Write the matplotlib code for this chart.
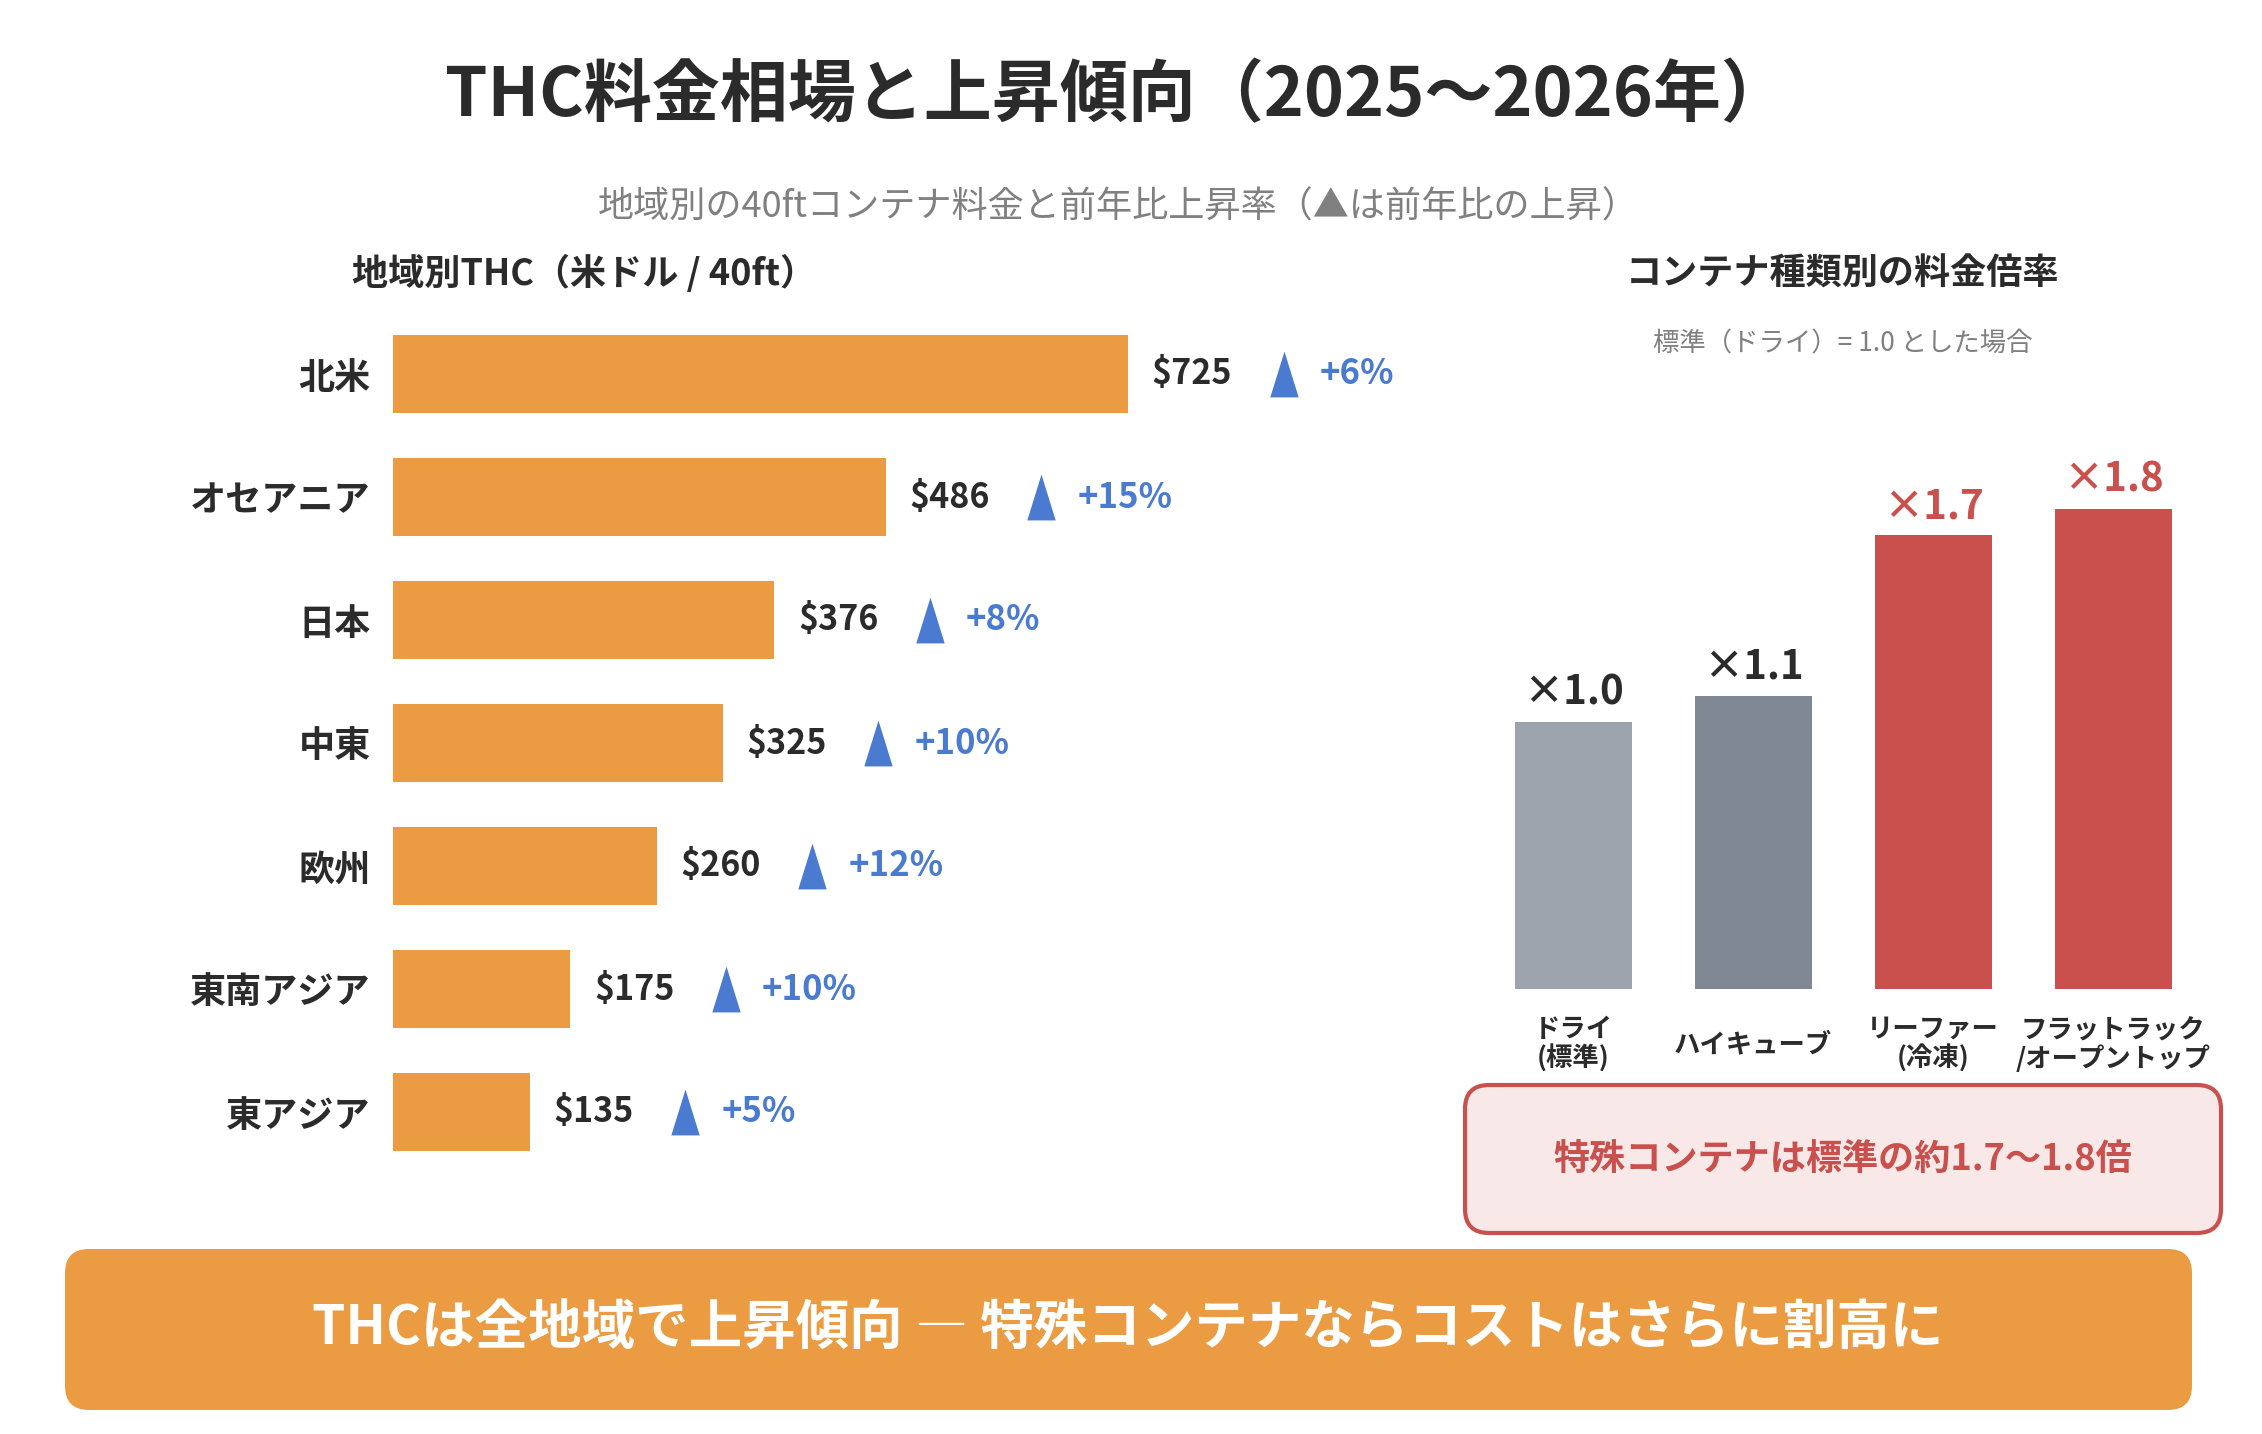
import matplotlib
matplotlib.use("Agg")
import matplotlib.pyplot as plt
from matplotlib.patches import FancyBboxPatch
from matplotlib.transforms import offset_copy

plt.rcParams['font.family'] = ['Noto Sans CJK JP', 'DejaVu Sans']

# data
regions = ['北米', 'オセアニア', '日本', '中東', '欧州', '東南アジア', '東アジア']
thc_usd = [725, 486, 376, 325, 260, 175, 135]
yoy_pct = [6, 15, 8, 10, 12, 10, 5]

containers = ['ドライ\n(標準)', 'ハイキューブ', 'リーファー\n(冷凍)', 'フラットラック\n/オープントップ']
ratio = [1.0, 1.1, 1.7, 1.8]
ratio_colors = ['#9ea4ae', '#7f8893', '#c9504c', '#c9504c']
label_colors = ['#2b2b2b', '#2b2b2b', '#c9504c', '#c9504c']

DARK = '#2b2b2b'
ORANGE = '#eb9b42'
BLUE = '#4a7bd1'
RED = '#c9504c'

W, H = 2262, 1434
fig = plt.figure(figsize=(W / 100, H / 100), dpi=100)
fig.patch.set_facecolor('white')

# overlay in pixel units for headings and boxes
ov = fig.add_axes([0, 0, 1, 1])
ov.set_xlim(0, W)
ov.set_ylim(H, 0)
ov.axis('off')

ov.text(1117, 97, 'THC料金相場と上昇傾向（2025〜2026年）', ha='center', va='center',
        fontsize=49, fontweight='bold', color=DARK)
ov.text(1118, 208, '地域別の40ftコンテナ料金と前年比上昇率（▲は前年比の上昇）', ha='center',
        va='center', fontsize=26, color='#808080')
ov.text(352, 274, '地域別THC（米ドル / 40ft）', ha='left', va='center',
        fontsize=26, fontweight='bold', color=DARK)
ov.text(1843, 274, 'コンテナ種類別の料金倍率', ha='center', va='center',
        fontsize=26, fontweight='bold', color=DARK)
ov.text(1843, 344, '標準（ドライ）= 1.0 とした場合', ha='center', va='center',
        fontsize=19, color='#808080')

ov.add_patch(FancyBboxPatch((1465, 1085), 756, 148,
                            boxstyle='round,pad=0,rounding_size=24',
                            fc='#f9e8e8', ec=RED, lw=3))
ov.text(1843, 1159, '特殊コンテナは標準の約1.7〜1.8倍', ha='center', va='center',
        fontsize=26, fontweight='bold', color=RED)

ov.add_patch(FancyBboxPatch((65, 1249), 2127, 161,
                            boxstyle='round,pad=0,rounding_size=24',
                            fc=ORANGE, ec='none'))
ov.text(1128, 1328, 'THCは全地域で上昇傾向 ― 特殊コンテナならコストはさらに割高に',
        ha='center', va='center', fontsize=38.5, fontweight='bold', color='white')

# left: regional THC bars
ax = fig.add_axes([393 / W, 1 - 1173.5 / H, 1014 / W, 861 / H])
ax.patch.set_alpha(0)
ypos = list(range(len(regions)))
ax.barh(ypos, thc_usd, height=0.63, color=ORANGE)
ax.set_xlim(0, 1000)
ax.set_ylim(len(regions) - 0.5, -0.5)
ax.set_yticks(ypos)
ax.set_yticklabels(regions, fontsize=26, fontweight='bold', color=DARK)
ax.tick_params(axis='y', length=0, pad=16)
ax.set_xticks([])
for s in ax.spines.values():
    s.set_visible(False)

for y, v, p in zip(ypos, thc_usd, yoy_pct):
    ax.annotate(f'${v}', xy=(v, y), xytext=(17, 0), textcoords='offset points',
                ha='left', va='center', fontsize=24.5, fontweight='bold', color=DARK)
    ax.annotate(f'+{p}%', xy=(v, y), xytext=(138, 0), textcoords='offset points',
                ha='left', va='center', fontsize=25, fontweight='bold', color=BLUE)

tri = [(-0.31, -0.5), (0.31, -0.5), (0, 0.5), (-0.31, -0.5)]
ax.plot(thc_usd, ypos, linestyle='none', marker=tri, markersize=33,
        color=BLUE, markeredgewidth=0,
        transform=offset_copy(ax.transData, fig=fig, x=112, y=0, units='points'))

# right: container multipliers
ax2 = fig.add_axes([1483 / W, 1 - 989 / H, 720 / W, 587 / H])
ax2.patch.set_alpha(0)
xpos = list(range(len(containers)))
ax2.bar(xpos, ratio, width=0.65, color=ratio_colors)
ax2.set_xlim(-0.5, len(containers) - 0.5)
ax2.set_ylim(0, 2.2)
ax2.set_xticks([])
ax2.set_yticks([])
for s in ax2.spines.values():
    s.set_visible(False)

for x, r, c in zip(xpos, ratio, label_colors):
    ax2.annotate(f'×{r:.1f}', xy=(x, r), xytext=(0, 6), textcoords='offset points',
                 ha='center', va='bottom', fontsize=29, fontweight='bold', color=c)
for x, name in zip(xpos, containers):
    ax2.annotate(name, xy=(x, 0), xytext=(0, -40), textcoords='offset points',
                 ha='center', va='center', multialignment='center', fontsize=19,
                 fontweight='bold', color=DARK, linespacing=1.1)

fig.savefig('out.png', dpi=100)
